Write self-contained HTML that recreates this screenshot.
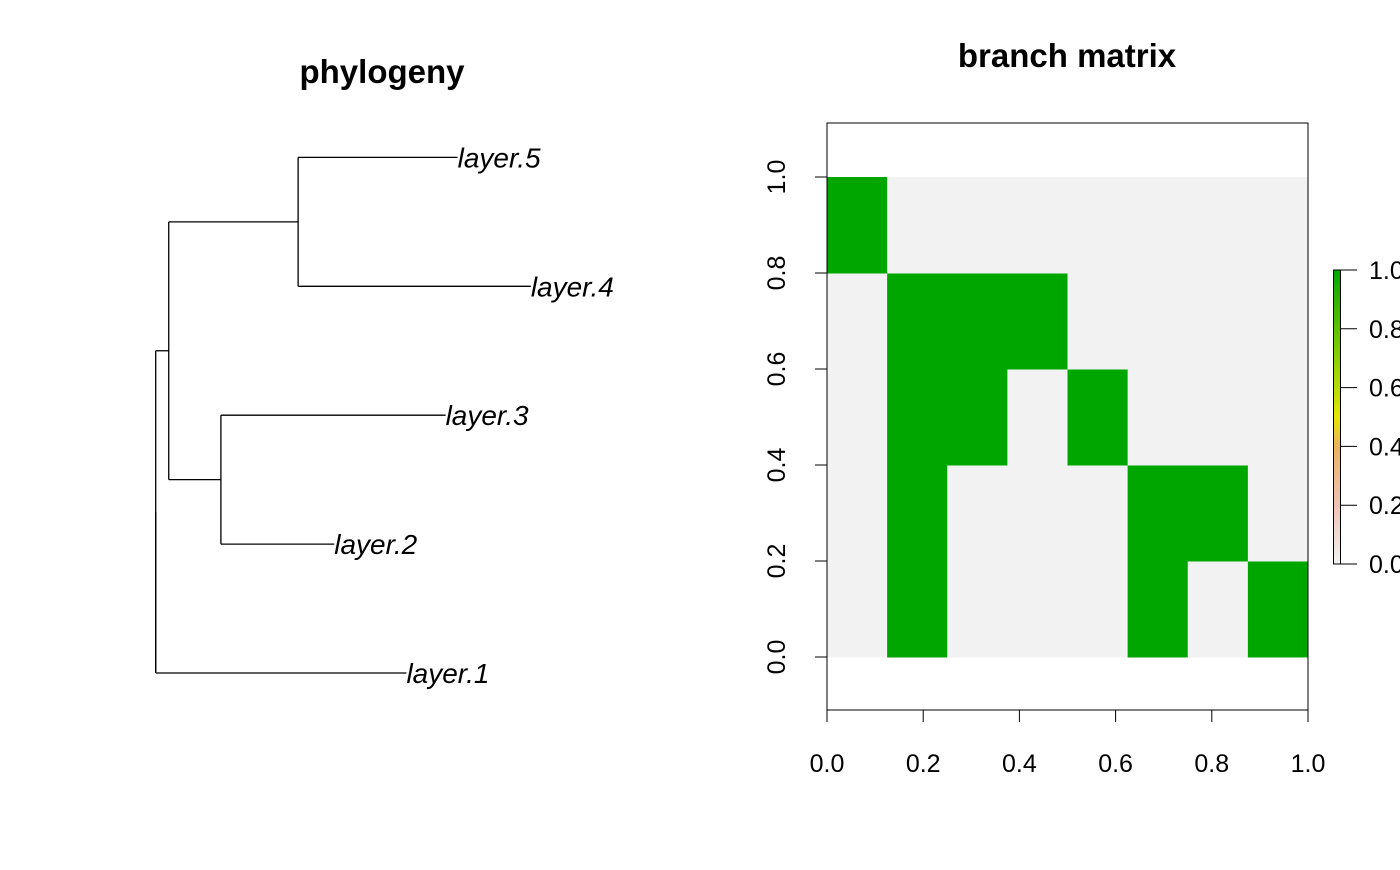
<!DOCTYPE html>
<html><head><meta charset="utf-8"><style>
body{margin:0;background:#fff}
svg text{font-family:"Liberation Sans",Arial,sans-serif}
</style></head><body>
<svg id="c" width="1400" height="865" viewBox="0 0 1400 865" xmlns="http://www.w3.org/2000/svg">
<text x="382" y="83" font-size="33" font-weight="bold" text-anchor="middle">phylogeny</text>
<text x="1067" y="67" font-size="33" font-weight="bold" text-anchor="middle">branch matrix</text>
<g id="tree"></g>
<g id="heat"></g>
<defs><linearGradient id="grad" x1="0" y1="1" x2="0" y2="0">
<stop offset="0" stop-color="#F2F2F2"/><stop offset="0.2" stop-color="#EFC2B3"/><stop offset="0.4" stop-color="#EBB25E"/><stop offset="0.5" stop-color="#E6E600"/><stop offset="0.7" stop-color="#8BD000"/><stop offset="1" stop-color="#00A600"/></linearGradient></defs>
<g id="legend"></g>
</svg>
<script>
const tipNames=["layer.1","layer.2","layer.3","layer.4","layer.5"];
const tipDepth=[2.5,1.78,2.89,3.74,3.01];
const nodeDepth={root:0,n1:0.13,n2:1.42,n3:0.65};
const nodeKids={root:[0,"n1"],n1:["n3","n2"],n2:[4,3],n3:[2,1]};
const matrixRows=[
 [0,1,0,0,0,1,0,1],
 [0,1,0,0,0,1,1,0],
 [0,1,1,0,1,0,0,0],
 [0,1,1,1,0,0,0,0],
 [1,0,0,0,0,0,0,0]];
const xTicks=[0,0.2,0.4,0.6,0.8,1.0];
const yTicks=[0,0.2,0.4,0.6,0.8,1.0];
const legendTicks=[0,0.2,0.4,0.6,0.8,1.0];
const NS="http://www.w3.org/2000/svg";
function mk(t,a,p){const e=document.createElementNS(NS,t);for(const k in a)e.setAttribute(k,a[k]);p.appendChild(e);return e;}
const tx=d=>155.7+d*100.3, ty=i=>673-i*128.9;
const tree=document.getElementById('tree');
function pos(n){if(typeof n==="number")return{x:tx(tipDepth[n]),y:ty(n)};
 const k=nodeKids[n].map(pos);return{x:tx(nodeDepth[n]),y:(k[0].y+k[1].y)/2,k};}
function draw(n){const p=pos(n);if(typeof n==="number"){
 const t=mk('text',{x:p.x,y:p.y+10,'font-size':28,'font-style':'italic'},tree);t.textContent=tipNames[n];
 
 return p;}
 const ks=nodeKids[n].map(draw);
 const v=mk('line',{x1:p.x,x2:p.x,y1:ks[0].y,y2:ks[1].y,stroke:'#000','stroke-width':1.3},tree);
 
 
 ks.forEach(c=>{const h=mk('line',{x1:p.x,x2:c.x,y1:c.y,y2:c.y,stroke:'#000','stroke-width':1.3},tree);
  
  });
 return p;}
const r=draw("root");
const rs=mk('line',{x1:r.x,x2:r.x,y1:ty(0),y2:r.y,stroke:'#000','stroke-width':1.3},tree);


const hx=v=>827+v*481, hy=v=>657-v*480;
const heat=document.getElementById('heat');
const nc=matrixRows[0].length, nr=matrixRows.length;
matrixRows.forEach((row,ri)=>row.forEach((v,ci)=>{
 const x0=hx(ci/nc),x1=hx((ci+1)/nc),y0=hy((ri+1)/nr),y1=hy(ri/nr);
 const c=mk('rect',{x:x0,y:y0,width:x1-x0+0.5,height:y1-y0+0.5,fill:v?'#00A600':'#F2F2F2'},heat);
 
 }));
const box=mk('rect',{x:827,y:123,width:481,height:587,fill:'none',stroke:'#000','stroke-width':1},heat);


mk('line',{x1:hx(0),x2:hx(1),y1:710,y2:710,stroke:'#000'},heat);
xTicks.forEach(t=>{mk('line',{x1:hx(t),x2:hx(t),y1:710,y2:722,stroke:'#000'},heat);
 const e=mk('text',{x:hx(t),y:772,'font-size':25,'text-anchor':'middle'},heat);e.textContent=t.toFixed(1);
 
 });
yTicks.forEach(t=>{mk('line',{x1:815,x2:827,y1:hy(t),y2:hy(t),stroke:'#000'},heat);
 const e=mk('text',{x:0,y:0,'font-size':25,'text-anchor':'middle',transform:`translate(785,${hy(t)}) rotate(-90)`},heat);e.textContent=t.toFixed(1);
 
 });
const lg=document.getElementById('legend');
const ly=v=>564-v*294;
mk('rect',{x:1333.5,y:ly(1),width:7,height:294,fill:'url(#grad)',stroke:'#000','stroke-width':1},lg);
legendTicks.forEach(t=>{mk('line',{x1:1340,x2:1357,y1:ly(t),y2:ly(t),stroke:'#000'},lg);
 const e=mk('text',{x:1369,y:ly(t)+9,'font-size':25},lg);e.textContent=t.toFixed(1);
 
 });
</script>
</body></html>
